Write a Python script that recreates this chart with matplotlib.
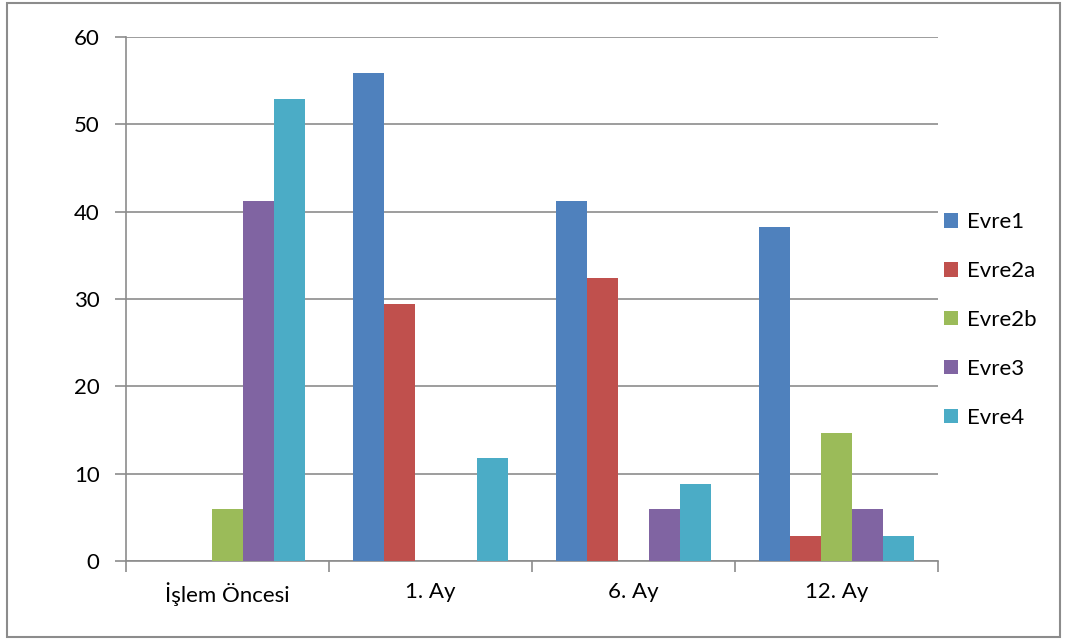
import numpy as np
import matplotlib.pyplot as plt
from matplotlib.patches import Rectangle

plt.rcParams['font.family'] = ['Lato', 'DejaVu Sans']

categories = ['İşlem Öncesi', '1. Ay', '6. Ay', '12. Ay']
series = ['Evre1', 'Evre2a', 'Evre2b', 'Evre3', 'Evre4']
evre1 = [0, 55.9, 41.2, 38.2]
evre2a = [0, 29.4, 32.4, 2.9]
evre2b = [5.9, 0, 0, 14.7]
evre3 = [41.2, 0, 5.9, 5.9]
evre4 = [52.9, 11.8, 8.8, 2.9]
values = [evre1, evre2a, evre2b, evre3, evre4]
colors = ['#4F81BD', '#C0504D', '#9BBB59', '#8064A2', '#4BACC6']

fig = plt.figure(figsize=(10.67, 6.41), dpi=100)
ax = fig.add_axes([0.1181, 0.1248, 0.761, 0.8175])

x = np.arange(len(categories))
w = 0.153
for i, (name, vals) in enumerate(zip(series, values)):
    ax.bar(x + (i - 2) * w, vals, width=w, color=colors[i], label=name, zorder=3)

ax.set_xlim(-0.5, len(categories) - 0.5)
ax.set_ylim(0, 60)
ax.set_yticks(range(0, 61, 10))
ax.grid(axis='y', color='#8c8c8c', linewidth=1.2, zorder=0)

# category labels in the middle, ticks at the boundaries
ax.set_xticks(np.arange(-0.5, len(categories), 1))
ax.set_xticklabels([])
ax.set_xticks(x, minor=True)
ax.set_xticklabels(categories, minor=True)
ax.tick_params(axis='x', which='major', length=8, width=1.2, color='#8c8c8c', direction='out')
ax.tick_params(axis='x', which='minor', length=0, pad=15, labelsize=16)
ax.tick_params(axis='y', length=8, width=1.2, color='#8c8c8c', direction='out', pad=11, labelsize=16)

for s in ['top', 'right']:
    ax.spines[s].set_visible(False)
for s in ['left', 'bottom']:
    ax.spines[s].set_color('#8c8c8c')
    ax.spines[s].set_linewidth(1.2)

fig.legend(loc='center left', bbox_to_anchor=(0.8847, 0.5008), frameon=False,
           fontsize=16, borderpad=0, borderaxespad=0, handlelength=0.63, handleheight=0.63,
           handletextpad=0.4, labelspacing=1.3)

fig.patches.append(Rectangle((0.0066, 0.006), 0.987, 0.99, transform=fig.transFigure,
                             fill=False, edgecolor='#8c8c8c', linewidth=1.5))

fig.savefig('out.png', dpi=100)
